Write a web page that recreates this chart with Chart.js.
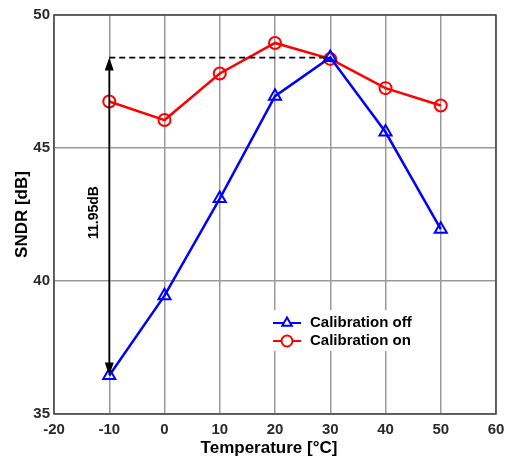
<!DOCTYPE html>
<html><head><meta charset="utf-8">
<script src="https://cdn.jsdelivr.net/npm/chart.js@4/dist/chart.umd.min.js"></script>
<style>html,body{margin:0;padding:0;background:#fff}#wrap{width:512px;height:459px}</style>
</head><body><div id="wrap"><canvas id="c" width="512" height="459"></canvas></div>
<script>
const temps = [-10, 0, 10, 20, 30, 40, 50];
const calOff = [36.45, 39.45, 43.1, 46.95, 48.4, 45.6, 41.95];
const calOn = [46.75, 46.05, 47.8, 48.95, 48.35, 47.25, 46.6];
const seriesNames = ['Calibration off', 'Calibration on'];
const gapLabel = '11.95dB';
const xTitle = 'Temperature [°C]';
const yTitle = 'SNDR [dB]';
const xTicks = [-20, -10, 0, 10, 20, 30, 40, 50, 60];
const yTicks = [35, 40, 45, 50];

const FONT = 'Liberation Sans, Arial, sans-serif';

const overlay = {
  id: 'overlay',
  afterDatasetsDraw(chart) {
    const {ctx, chartArea: a, scales: {x, y}} = chart;
    ctx.save();
    // box
    ctx.strokeStyle = '#444'; ctx.lineWidth = 1.5;
    ctx.strokeRect(a.left, a.top, a.right - a.left, a.bottom - a.top);
    // dashed line
    const yTop = y.getPixelForValue(calOff[4]);
    const yBot = y.getPixelForValue(calOff[0]);
    const xA = x.getPixelForValue(temps[0]);
    ctx.strokeStyle = '#000'; ctx.lineWidth = 1.7; ctx.setLineDash([6, 4]);
    ctx.beginPath(); ctx.moveTo(xA, yTop); ctx.lineTo(x.getPixelForValue(temps[4]), yTop); ctx.stroke();
    ctx.setLineDash([]);
    // arrow
    ctx.lineWidth = 1.7;
    ctx.beginPath(); ctx.moveTo(xA, yTop + 10); ctx.lineTo(xA, yBot - 10); ctx.stroke();
    ctx.fillStyle = '#000';
    ctx.beginPath(); ctx.moveTo(xA, yTop); ctx.lineTo(xA - 4.5, yTop + 13); ctx.lineTo(xA + 4.5, yTop + 13); ctx.closePath(); ctx.fill();
    ctx.beginPath(); ctx.moveTo(xA, yBot); ctx.lineTo(xA - 4.5, yBot - 13); ctx.lineTo(xA + 4.5, yBot - 13); ctx.closePath(); ctx.fill();
    // label
    ctx.save();
    ctx.translate(xA - 15, (yTop + yBot) / 2 - 4);
    ctx.rotate(-Math.PI / 2);
    ctx.font = 'bold 14px ' + FONT; ctx.textAlign = 'center'; ctx.textBaseline = 'middle';
    ctx.fillText(gapLabel, 0, 0);
    ctx.restore();
    // axis titles
    ctx.fillStyle = '#000'; ctx.font = 'bold 17px ' + FONT; ctx.textAlign = 'center'; ctx.textBaseline = 'middle';
    ctx.fillText(xTitle, (a.left + a.right) / 2 - 6, 448);
    ctx.save();
    ctx.translate(22, (a.top + a.bottom) / 2);
    ctx.rotate(-Math.PI / 2);
    ctx.fillText(yTitle, 0, 0);
    ctx.restore();
    // legend
    const lx = 271, ly = 310, lw = 169, lh = 41;
    ctx.fillStyle = '#fff'; ctx.fillRect(lx, ly, lw, lh);
    const ds = chart.data.datasets;
    ds.forEach((d, i) => {
      const cy = ly + 13 + i * 18;
      ctx.strokeStyle = d.borderColor; ctx.lineWidth = 2;
      ctx.beginPath(); ctx.moveTo(lx + 2, cy); ctx.lineTo(lx + 30, cy); ctx.stroke();
      ctx.fillStyle = '#fff';
      Chart.helpers.drawPoint(ctx, {pointStyle: d.pointStyle, radius: 5.5, borderWidth: 2}, lx + 16, cy);
      ctx.fillStyle = '#000'; ctx.font = 'bold 15px ' + FONT; ctx.textAlign = 'left'; ctx.textBaseline = 'middle';
      ctx.fillText(d.label, lx + 39, cy);
    });
    ctx.restore();
  }
};

new Chart(document.getElementById('c'), {
  type: 'line',
  data: {
    datasets: [
      {label: seriesNames[0], data: temps.map((t, i) => ({x: t, y: calOff[i]})), borderColor: '#0000ff', backgroundColor: 'rgba(0,0,0,0)', borderWidth: 2.5, pointStyle: 'triangle', pointRadius: 7, pointBorderWidth: 2, pointBackgroundColor: 'rgba(0,0,0,0)', tension: 0},
      {label: seriesNames[1], data: temps.map((t, i) => ({x: t, y: calOn[i]})), borderColor: '#ff0000', backgroundColor: 'rgba(0,0,0,0)', borderWidth: 2.5, pointStyle: 'circle', pointRadius: 6, pointBorderWidth: 2, pointBackgroundColor: 'rgba(0,0,0,0)', tension: 0}
    ]
  },
  options: {
    responsive: false, animation: false, devicePixelRatio: 1,
    layout: {padding: {top: 15, right: 16, left: 0, bottom: 0}},
    plugins: {legend: {display: false}, tooltip: {enabled: false}},
    scales: {
      x: {
        type: 'linear', min: -20, max: 60,
        afterBuildTicks(s) { s.ticks = xTicks.map(v => ({value: v})); },
        afterFit(s) { s.height = 45; },
        grid: {color: '#999', lineWidth: 1.5, drawTicks: false},
        border: {display: false},
        ticks: {padding: 7, color: '#2a2a2a', font: {family: FONT, size: 15, weight: 'bold'}, maxRotation: 0},
        title: {display: false}
      },
      y: {
        min: 35, max: 50,
        afterBuildTicks(s) { s.ticks = yTicks.map(v => ({value: v})); },
        afterFit(s) { s.width = 54; },
        grid: {color: '#999', lineWidth: 1.5, drawTicks: false},
        border: {display: false},
        ticks: {padding: 4, color: '#2a2a2a', font: {family: FONT, size: 15, weight: 'bold'}},
        title: {display: false}
      }
    }
  },
  plugins: [overlay]
});
</script></body></html>
